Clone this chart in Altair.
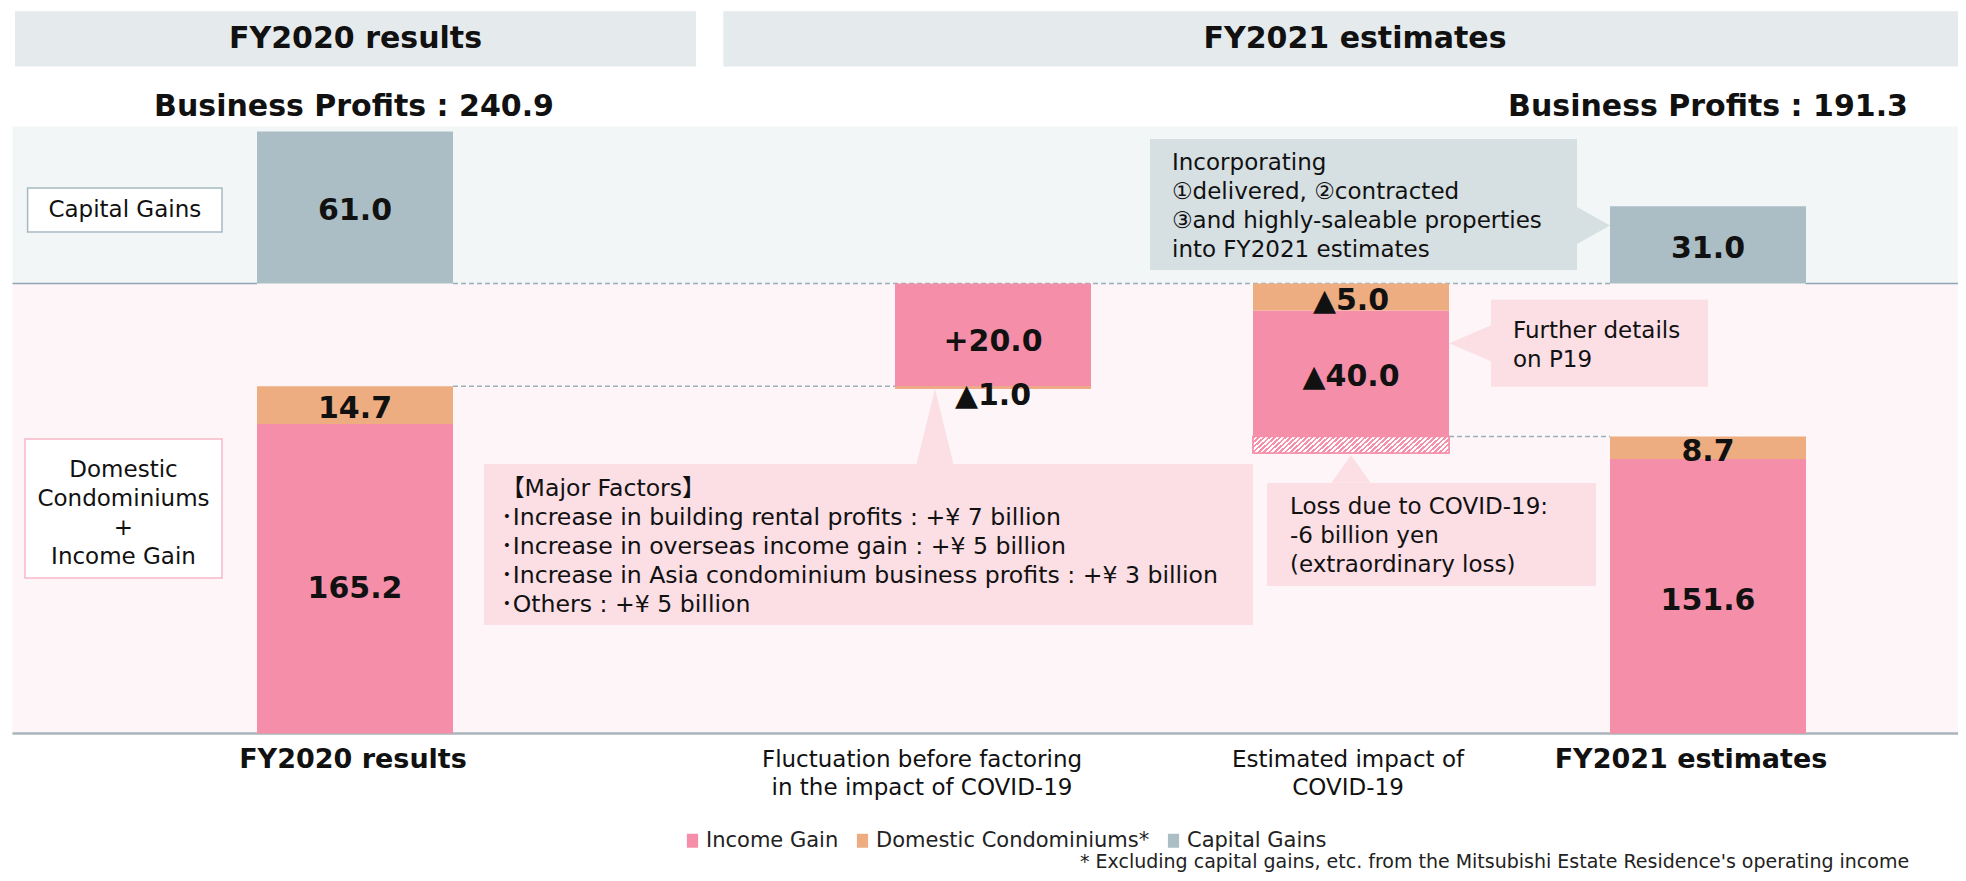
import altair as alt
import pandas as pd

# ---------------- data (billions of yen) ----------------
categories = ["FY2020 results",
              "Fluctuation before factoring\nin the impact of COVID-19",
              "Estimated impact of\nCOVID-19",
              "FY2021 estimates"]
income_gain = [165.2, 20.0, -40.0, 151.6]
domestic_condos = [14.7, -1.0, -5.0, 8.7]
capital_gains = [61.0, None, None, 31.0]
business_profits = [240.9, 191.3]
series_names = ["Income Gain", "Domestic Condominiums", "Capital Gains"]
headers = ["FY2020 results", "FY2021 estimates"]

# ---------------- styles ----------------
FONT = "DejaVu Sans, Noto Sans CJK JP, sans-serif"
PINK = "#F58FA9"
ORANGE = "#EDAD80"
GRAY = "#ABBEC5"
HEAD = "#E5EAED"
CAPBG = "#F2F6F7"
LOWBG = "#FDF5F7"
CALL_PINK = "#FCDEE5"
CALL_GRAY = "#D6DFE2"
DASH = "#9AAFBA"
LINE = "#8EA7B3"
INK = "#111111"
BARW = 196


def fmt_delta(v):
    return ("+" if v > 0 else "\u25b2") + f"{abs(v):.1f}"


# waterfall segments
segs = []
levels = []
level = 0.0
for i in range(4):
    inc, con = income_gain[i], domestic_condos[i]
    if i in (0, 3):
        segs.append(dict(idx=i, series="Income Gain", start=0.0, end=inc, label=f"{inc:.1f}"))
        segs.append(dict(idx=i, series="Domestic Condominiums", start=inc, end=inc + con, label=f"{con:.1f}"))
        level = inc + con
    else:
        s = level
        e = s + con
        s2 = e + inc
        segs.append(dict(idx=i, series="Income Gain", start=min(e, s2), end=max(e, s2), label=fmt_delta(inc)))
        segs.append(dict(idx=i, series="Domestic Condominiums", start=min(s, e), end=max(s, e), label=fmt_delta(con)))
        level = s2
    levels.append(level)
seg_df = pd.DataFrame(segs)

total_2020 = levels[0]
total_2021 = levels[3]
level_after_covid = levels[2]
hatch_df = pd.DataFrame([dict(idx=2, start=level_after_covid, end=total_2021)])
conn_df = pd.DataFrame([dict(a=0, b=1, level=total_2020), dict(a=2, b=3, level=total_2021)])

cap_df = pd.DataFrame([dict(idx=i, series="Capital Gains", value=v, base=0.0, label=f"{v:.1f}")
                       for i, v in enumerate(capital_gains) if v is not None])

# ---------------- scales ----------------
xs = alt.Scale(domain=[0, 1, 2, 3], range=[347, 985, 1343, 1700], nice=False, zero=False, padding=0)
ys = alt.Scale(domain=[0, 150, 179.9, 198.9], range=[725.5, 455, 378.2, 275.4], nice=False, zero=False, padding=0)
cs = alt.Scale(domain=[0, 63], range=[275.4, 118.6], nice=False, zero=False, padding=0)
col = alt.Scale(domain=series_names, range=[PINK, ORANGE, GRAY])
legend = alt.Legend(orient="none", legendX=674, legendY=822, direction="horizontal", title=None,
                    symbolType="M-0.8,-1H0.8V1H-0.8Z", symbolSize=196, symbolStrokeWidth=0,
                    labelFontSize=21, labelFont=FONT, labelColor="#222222", labelOffset=3,
                    labelLimit=500, columnPadding=13, padding=0,
                    labelExpr="datum.label == 'Domestic Condominiums' ? 'Domestic Condominiums*' : datum.label")

one = pd.DataFrame({"k": [0]})


def box(x1, x2, y1, y2, fill, stroke=None, sw=0.0):
    kw = dict(fill=fill)
    if stroke:
        kw.update(stroke=stroke, strokeWidth=sw)
    return alt.Chart(one).mark_rect(**kw).encode(
        x=alt.value(x1), x2=alt.value(x2), y=alt.value(y1), y2=alt.value(y2))


def hline(x1, x2, y, color, sw, dash=None):
    kw = dict(color=color, strokeWidth=sw)
    if dash:
        kw["strokeDash"] = dash
    return alt.Chart(one).mark_rule(**kw).encode(x=alt.value(x1), x2=alt.value(x2), y=alt.value(y))


def txt(s, x, y, size, bold=False, align="center", color=INK):
    return alt.Chart(one).mark_text(text=s, fontSize=size, fontWeight="bold" if bold else "normal",
                                    font=FONT, align=align, baseline="middle", color=color).encode(
        x=alt.value(x), y=alt.value(y))


def lines(ls, x, y0, lh, size, align="left"):
    return [txt(s, x, y0 + k * lh, size, align=align) for k, s in enumerate(ls)]


def pointer(path, size, cx, cy, color):
    return alt.Chart(one).mark_point(shape=path, size=size, filled=True, color=color, opacity=1,
                                     strokeWidth=0).encode(x=alt.value(cx), y=alt.value(cy))


layers = []
# backgrounds
layers += [box(4.5, 1950, 118.6, 275.4, CAPBG), box(4.5, 1950, 275.4, 725.5, LOWBG)]
layers += [box(7, 688, 3.3, 58.5, HEAD), box(715.4, 1950, 3.3, 58.5, HEAD)]
layers += [txt(headers[0], 347.5, 31, 30, bold=True), txt(headers[1], 1347, 31, 30, bold=True)]
layers += [txt(f"Business Profits : {business_profits[0]:.1f}", 346, 99, 30, bold=True),
           txt(f"Business Profits : {business_profits[1]:.1f}", 1700, 99, 30, bold=True)]
# band boundary and baseline
layers += [hline(4.5, 249, 275.4, LINE, 1.5), hline(1797.5, 1950, 275.4, LINE, 1.5),
           hline(4.5, 1950, 725.5, "#A9B5BB", 2.5)]
layers.append(alt.Chart(one).mark_rule(color=DASH, strokeWidth=1.5, strokeDash=[5, 3],
                                       xOffset=BARW / 2, x2Offset=-BARW / 2).encode(
    x=alt.XDatum(0, scale=xs, axis=None), x2=alt.X2Datum(3),
    y=alt.YDatum(0, scale=cs, axis=None)))
# waterfall connectors
layers.append(alt.Chart(conn_df).mark_rule(color=DASH, strokeWidth=1.5, strokeDash=[5, 3],
                                           xOffset=BARW / 2, x2Offset=-BARW / 2).encode(
    x=alt.X("a:Q", scale=xs, axis=None), x2="b:Q",
    y=alt.Y("level:Q", scale=ys, axis=None)))
# bars
layers.append(alt.Chart(seg_df).mark_bar(size=BARW, orient="vertical").encode(
    x=alt.X("idx:Q", scale=xs, axis=None),
    y=alt.Y("start:Q", scale=ys, axis=None), y2="end:Q",
    color=alt.Color("series:N", scale=col, legend=legend)))
layers.append(alt.Chart(cap_df).mark_bar(size=BARW, orient="vertical").encode(
    x=alt.X("idx:Q", scale=xs, axis=None),
    y=alt.Y("value:Q", scale=cs, axis=None), y2="base:Q",
    color=alt.Color("series:N", scale=col, legend=legend)))
# hatched part (extraordinary loss): white base + diagonal pink stripes
layers.append(alt.Chart(hatch_df).mark_bar(size=BARW, orient="vertical", fill="#FFFFFF",
                                           stroke=PINK, strokeWidth=1.5).encode(
    x=alt.X("idx:Q", scale=xs, axis=None),
    y=alt.Y("start:Q", scale=ys, axis=None), y2="end:Q"))
N = 40
stops = []
for k in range(N):
    stops += [{"offset": round(k / N, 5), "color": PINK},
              {"offset": round((k + 0.5) / N, 5), "color": PINK},
              {"offset": round((k + 0.5) / N, 5), "color": "#FFFFFF"},
              {"offset": round((k + 1) / N, 5), "color": "#FFFFFF"}]
grad = alt.LinearGradient(gradient="linear", x1=0, y1=0, x2=1.08, y2=0.1,
                          stops=[alt.GradientStop(**s) for s in stops])
layers.append(alt.Chart(hatch_df).mark_bar(size=BARW, orient="vertical", fill=grad, stroke=PINK,
                                           strokeWidth=1.5).encode(
    x=alt.X("idx:Q", scale=xs, axis=None),
    y=alt.Y("start:Q", scale=ys, axis=None), y2="end:Q"))

# value labels
special_a = (seg_df.idx == 1) & (seg_df.series == "Domestic Condominiums")
special_b = (seg_df.idx == 2) & (seg_df.series == "Income Gain")


def seg_labels(df, dy):
    return alt.Chart(df).transform_calculate(mid="(datum.start + datum.end) / 2").mark_text(
        fontSize=30, fontWeight="bold", font=FONT, color=INK, baseline="middle", dy=dy).encode(
        x=alt.X("idx:Q", scale=xs, axis=None),
        y=alt.Y("mid:Q", scale=ys, axis=None), text="label:N")


layers.append(seg_labels(seg_df[~(special_a | special_b)], 4))
layers.append(seg_labels(seg_df[special_a], 9))
layers.append(seg_labels(seg_df[special_b], -25))
layers.append(alt.Chart(cap_df).transform_calculate(mid="datum.value / 2").mark_text(
    fontSize=30, fontWeight="bold", font=FONT, color=INK, baseline="middle", dy=4).encode(
    x=alt.X("idx:Q", scale=xs, axis=None),
    y=alt.Y("mid:Q", scale=cs, axis=None), text="label:N"))

# row label boxes
layers += [box(19.6, 214, 180, 224, "#FFFFFF", "#A6BAC3", 1.5), txt("Capital Gains", 116.8, 202, 23)]
layers += [box(17, 214, 431, 570, "#FFFFFF", "#F7B8C8", 1.5)]
layers += lines(["Domestic", "Condominiums", "+", "Income Gain"], 115.5, 462, 29, 23, align="center")

# callouts
layers += [box(1142, 1569, 131, 262, CALL_GRAY),
           pointer("M-0.89,-1L0.89,0L-0.89,1Z", 1369, 1585.5, 217.5, CALL_GRAY)]
layers += lines(["Incorporating", "\u2460delivered, \u2461contracted",
                 "\u2462and highly-saleable properties", "into FY2021 estimates"], 1164, 155, 29, 23)
layers += [box(1483, 1700, 291.7, 378.8, CALL_PINK),
           pointer("M1,-0.865L-1,0L1,0.865Z", 1731, 1462.2, 335.3, CALL_PINK)]
layers += lines(["Further details", "on P19"], 1505, 323, 28.5, 23)
layers += [box(476, 1245, 456, 617, CALL_PINK),
           pointer("M-0.49,1L0,-1L0.49,1Z", 5640, 927, 418.5, CALL_PINK)]
layers += lines(["\u3010Major Factors\u3011",
                 "\uff65Increase in building rental profits : +\u00a5 7 billion",
                 "\uff65Increase in overseas income gain : +\u00a5 5 billion",
                 "\uff65Increase in Asia condominium business profits : +\u00a5 3 billion",
                 "\uff65Others : +\u00a5 5 billion"], 493, 481, 29, 23.6)
layers += [box(1259, 1588, 475, 578, CALL_PINK),
           pointer("M-1,0.7L0,-0.7L1,0.7Z", 1521, 1343, 461, CALL_PINK)]
layers += lines(["Loss due to COVID-19:", "-6 billion yen", "(extraordinary loss)"], 1282, 499, 29, 23)

# category labels under the bars
cat_dx = [-2, -71, -3, -17]
for i, name in enumerate(categories):
    bold = i in (0, 3)
    for j, line in enumerate(name.split("\n")):
        layers.append(alt.Chart(one).mark_text(
            text=line, fontSize=27 if bold else 23, fontWeight="bold" if bold else "normal",
            font=FONT, color=INK, baseline="middle", dx=cat_dx[i]).encode(
            x=alt.XDatum(i, scale=xs, axis=None), y=alt.value(751.5 + 28.5 * j)))

# footnote
layers.append(txt("* Excluding capital gains, etc. from the Mitsubishi Estate Residence's operating income",
                  1072, 854, 19, align="left", color="#222222"))

chart = alt.layer(*layers).resolve_scale(y="independent").properties(
    width=1950, height=865, autosize=alt.AutoSizeParams(type="none"), padding=0,
    background="#FFFFFF").configure_view(strokeWidth=0)

chart.save("out.html", embed_options={"renderer": "svg", "actions": False})
